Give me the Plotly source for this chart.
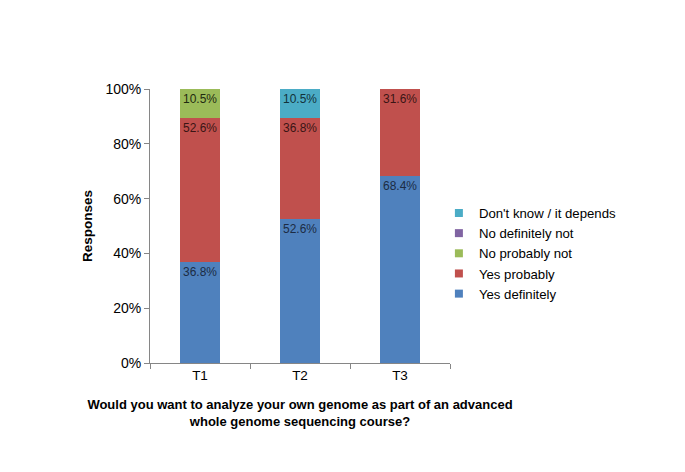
import plotly.graph_objects as go

categories = ["T1", "T2", "T3"]
series_names = ["Yes definitely", "Yes probably", "No probably not", "No definitely not", "Don't know / it depends"]
yes_definitely = [36.8, 52.6, 68.4]
yes_probably = [52.6, 36.8, 31.6]
no_probably_not = [10.5, 0, 0]
no_definitely_not = [0, 0, 0]
dont_know = [0, 10.5, 0]
colors = ["#4F81BD", "#C0504D", "#9BBB59", "#8064A2", "#4BACC6"]
text_colors = ["#1C2C44", "#3A1514", "#1F2A10", "#201830", "#12323A"]

values = [yes_definitely, yes_probably, no_probably_not, no_definitely_not, dont_know]

fig = go.Figure()
for name, vals, c, tc in zip(series_names, values, colors, text_colors):
    fig.add_trace(go.Bar(
        x=categories, y=vals, name=name, marker=dict(color=c, line=dict(width=0)),
        text=[f"{v:.1f}%" if v > 0 else "" for v in vals],
        textposition="inside", insidetextanchor="end",
        textfont=dict(family="Liberation Sans, Arial", size=14, color=tc),
        textangle=0, cliponaxis=False, showlegend=False,
    ))
# legend entries with small square swatches
for name, c in zip(series_names, colors):
    fig.add_trace(go.Scatter(
        x=[None], y=[None], mode="markers", name=name,
        marker=dict(symbol="square", size=8, color=c),
    ))

fig.update_layout(
    barmode="stack", bargap=0.6,
    width=677, height=464,
    margin=dict(l=142, r=235, t=81, b=109),
    paper_bgcolor="white", plot_bgcolor="white",
    font=dict(family="Liberation Sans, Arial", size=13, color="#000000"),
    legend=dict(traceorder="reversed", x=0.963, xanchor="left", y=0.40, yanchor="middle",
                font=dict(size=13.2), itemwidth=30, tracegroupgap=0, bgcolor="rgba(0,0,0,0)"),
    xaxis=dict(showline=True, linecolor="#868686", linewidth=1, ticks="outside", tickson="boundaries",
               ticklen=5, tickcolor="#868686", showgrid=False, tickfont=dict(size=13.5),
               title=dict(text="<b>Would you want to analyze your own genome as part of an advanced<br>whole genome sequencing course?</b>",
                          font=dict(size=13), standoff=17)),
    yaxis=dict(range=[0, 100], tickvals=[0, 20, 40, 60, 80, 100], ticktext=["0%", "20%", "40%", "60%", "80%", "100%"],
               showline=True, linecolor="#868686", linewidth=1, ticks="outside", ticklen=5, tickcolor="#868686",
               showgrid=False, zeroline=False, tickfont=dict(size=14),
               title=dict(text="<b>Responses</b>", font=dict(size=13.5), standoff=9)),
)

fig.write_html("out.html")
